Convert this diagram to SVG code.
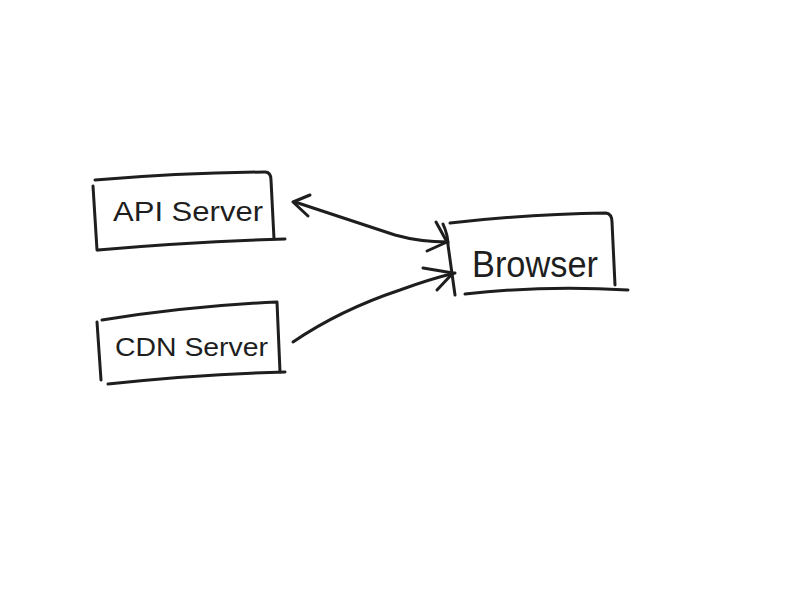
<svg xmlns="http://www.w3.org/2000/svg" width="800" height="600" viewBox="0 0 800 600">
<style>
.s{fill:none;stroke:#1e1e1e;stroke-width:3;stroke-linecap:round;stroke-linejoin:round}
.t{font-family:"Liberation Sans","DejaVu Sans",sans-serif;fill:#1e1e1e}
</style>
<rect width="800" height="600" fill="#fff"/>
<g id="api-server">
<path class="s" d="M95,180 Q180,173 265,172 Q271,172 271,180 L274,239"/>
<path class="s" d="M93,186 L97,250"/>
<path class="s" d="M98,250 Q190,242 285,239"/>
<text class="t" x="113" y="221" font-size="28" textLength="150" lengthAdjust="spacingAndGlyphs">API Server</text>
</g>
<g id="cdn-server">
<path class="s" d="M102,320 Q190,306 277,302 L280,372"/>
<path class="s" d="M97,322 L101,380"/>
<path class="s" d="M108,384 Q200,374 285,372"/>
<text class="t" x="115" y="356" font-size="26" textLength="153" lengthAdjust="spacingAndGlyphs">CDN Server</text>
</g>
<g id="browser">
<path class="s" d="M450,223 Q530,214 606,213 Q612,214 612,222 L615,285"/>
<path class="s" d="M443,224 Q448,235 448,245 L455,295"/>
<path class="s" d="M465,294 Q545,285 628,290"/>
<text class="t" x="472" y="277" font-size="36" textLength="126" lengthAdjust="spacingAndGlyphs">Browser</text>
</g>
<g id="connectors">
<path class="s" d="M295,202 Q350,220 395,235 Q420,242 448,242"/>
<path class="s" d="M310,195 L293,202 L308,216"/>
<path class="s" d="M427,251 L447,242 L436,222"/>
<path class="s" d="M293,342 Q340,310 400,290 Q430,279 455,273"/>
<path class="s" d="M423,268 L453,273 L437,290"/>
</g>
</svg>
